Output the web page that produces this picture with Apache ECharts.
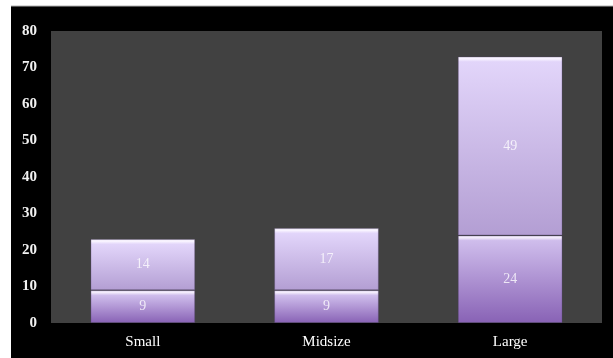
<!DOCTYPE html>
<html>
<head>
<meta charset="utf-8">
<script src="https://cdn.jsdelivr.net/npm/echarts@6/dist/echarts.min.js"></script>
<style>
html,body{margin:0;padding:0;background:#fff;}
#c{width:613px;height:358px;}
</style>
</head>
<body>
<div id="c"></div>
<script>
const categories = ['Small', 'Midsize', 'Large'];
const lowerValues = [9, 9, 24];
const upperValues = [14, 17, 49];
const yTicks = [0, 10, 20, 30, 40, 50, 60, 70, 80];

const chart = echarts.init(document.getElementById('c'), null, {renderer: 'canvas'});

const GRID = {left: 51, top: 31, right: 11, bottom: 35};
const plotH = 358 - GRID.top - GRID.bottom;
const yMax = yTicks[yTicks.length - 1];

function grad(v, cols) {
  const px = v * plotH / yMax;
  const o = Math.min(0.3, 4 / px);
  return new echarts.graphic.LinearGradient(0, 0, 0, 1, [
    {offset: 0, color: cols[0]},
    {offset: o * 0.6, color: cols[0]},
    {offset: o * 1.3, color: cols[1]},
    {offset: 1, color: cols[2]}
  ]);
}

const lowerCols = ['#f3ecfc', '#cfbdec', '#8862b5'];
const upperCols = ['#f8f3ff', '#e2d5fa', '#b39ed3'];

const labelStyle = {
  show: true,
  position: 'inside',
  color: 'rgba(255,255,255,0.78)',
  fontFamily: 'Liberation Serif, Times New Roman, serif',
  fontSize: 14
};

chart.setOption({
  backgroundColor: '#ffffff',
  animation: false,
  graphic: [
    {type: 'rect', z: -10, silent: true, shape: {x: 11, y: 6, width: 602, height: 352}, style: {fill: '#000000'}},
    {type: 'line', z: -9, silent: true, shape: {x1: 11, y1: 6, x2: 613, y2: 6}, style: {stroke: '#b0b0b0', lineWidth: 1}}
  ],
  grid: {
    left: GRID.left, top: GRID.top, right: GRID.right, bottom: GRID.bottom,
    show: true, backgroundColor: '#414141', borderWidth: 0
  },
  xAxis: {
    type: 'category',
    data: categories,
    axisLine: {show: false},
    axisTick: {show: false},
    axisLabel: {
      color: '#ffffff',
      fontFamily: 'Liberation Serif, Times New Roman, serif',
      fontSize: 15,
      margin: 12
    }
  },
  yAxis: {
    type: 'value',
    min: yTicks[0],
    max: yMax,
    interval: 10,
    axisLine: {show: false},
    axisTick: {show: false},
    splitLine: {show: false},
    axisLabel: {
      color: '#f2f2f2',
      fontFamily: 'Liberation Serif, Times New Roman, serif',
      fontSize: 15,
      fontWeight: 'bold',
      margin: 14
    }
  },
  series: [
    {
      type: 'bar',
      stack: 'total',
      barWidth: '57%',
      data: lowerValues.map(v => ({value: v, itemStyle: {color: grad(v, lowerCols)}})),
      itemStyle: {borderColor: 'rgba(90,70,120,0.35)', borderWidth: 1},
      label: labelStyle
    },
    {
      type: 'bar',
      stack: 'total',
      barWidth: '57%',
      data: upperValues.map(v => ({value: v, itemStyle: {color: grad(v, upperCols)}})),
      itemStyle: {borderColor: 'rgba(90,70,120,0.3)', borderWidth: 1},
      label: labelStyle
    }
  ]
});
</script>
</body>
</html>
